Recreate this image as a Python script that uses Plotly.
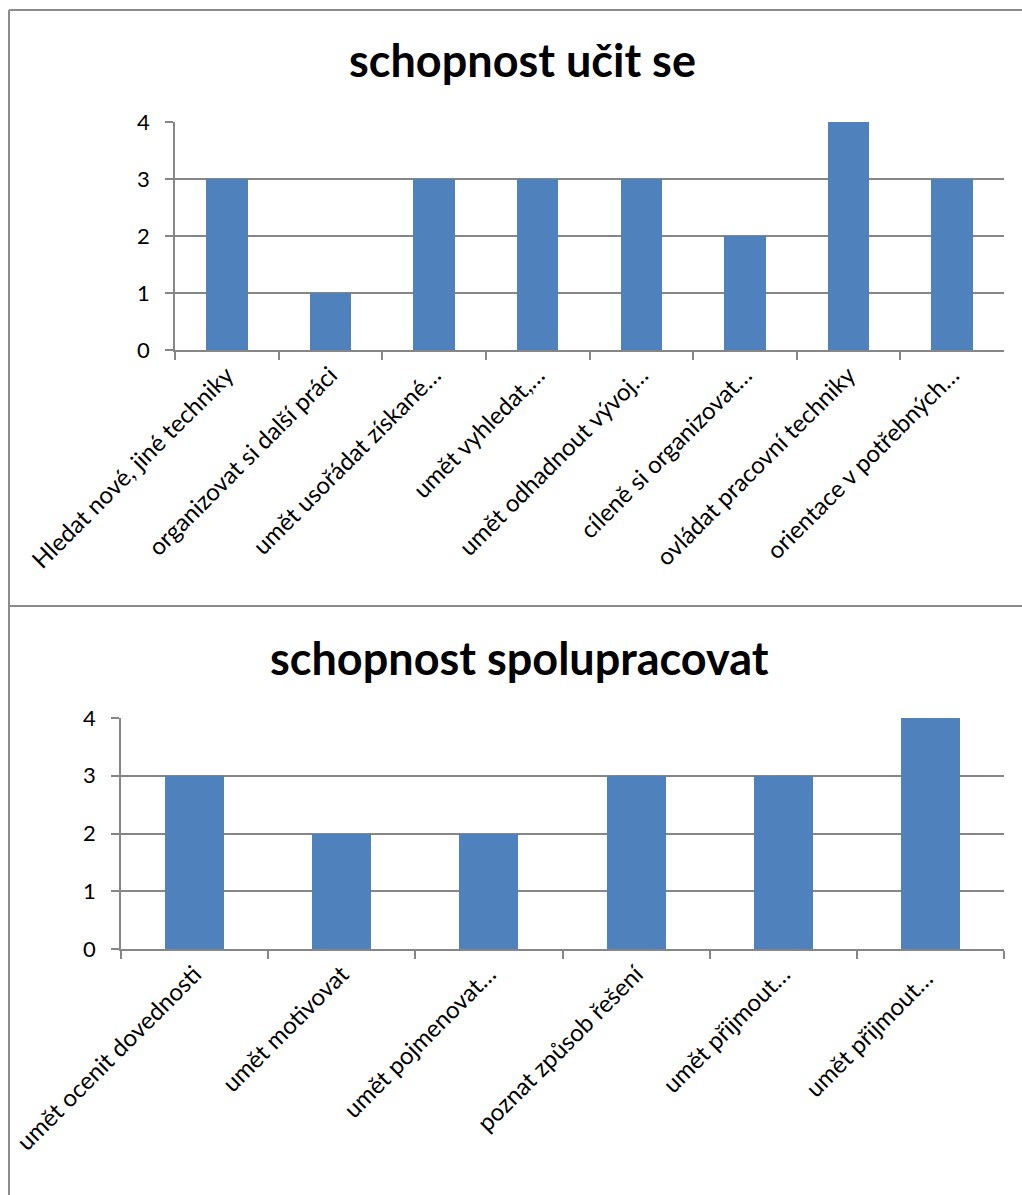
import plotly.graph_objects as go

# Data: two skill groups, count of responses per item
learn_labels = [
    "Hledat nové, jiné techniky",
    "organizovat si další práci",
    "umět usořádat získané…",
    "umět vyhledat,…",
    "umět odhadnout vývoj…",
    "cíleně si organizovat…",
    "ovládat pracovní techniky",
    "orientace v potřebných…",
]
learn_values = [3, 1, 3, 3, 3, 2, 4, 3]

# the last two items share a truncated caption; the trailing space keeps the categories distinct
coop_labels = [
    "umět ocenit dovednosti",
    "umět motivovat",
    "umět pojmenovat…",
    "poznat způsob řešení",
    "umět přijmout…",
    "umět přijmout… ",
]
coop_values = [3, 2, 2, 3, 3, 4]

title_top = "schopnost učit se"
title_bottom = "schopnost spolupracovat"
y_ticks = [0, 1, 2, 3, 4]

W, H = 1022, 1195
BAR = "#4F81BD"
GRID = "#868686"
FONT = "Lato"


def px_x(v):
    return v / W


def px_y(v):
    return 1 - v / H


fig = go.Figure()
fig.add_trace(go.Bar(x=learn_labels, y=learn_values, width=0.4,
                     marker=dict(color=BAR, line=dict(width=0)),
                     xaxis="x", yaxis="y", showlegend=False, hoverinfo="skip"))
fig.add_trace(go.Bar(x=coop_labels, y=coop_values, width=0.4,
                     marker=dict(color=BAR, line=dict(width=0)),
                     xaxis="x2", yaxis="y2", showlegend=False, hoverinfo="skip"))

xcommon = dict(type="category", showgrid=False, zeroline=False, showline=True,
               linecolor=GRID, linewidth=1.5,
               ticks="outside", ticklen=8, tickcolor=GRID, tickwidth=1.5, tickson="boundaries",
               tickangle=-45, tickfont=dict(family=FONT, size=24, color="black"),
               automargin=False, fixedrange=True)
ycommon = dict(range=[0, 4], tickvals=y_ticks, showgrid=True, gridcolor=GRID, gridwidth=1.5,
               zeroline=False, showline=True, linecolor=GRID, linewidth=1.5,
               ticks="outside", ticklen=8, tickcolor=GRID, tickwidth=1.5,
               tickfont=dict(family=FONT, size=22, color="black"), ticklabelstandoff=11,
               automargin=False, fixedrange=True)

fig.update_layout(
    width=W, height=H,
    margin=dict(l=0, r=0, t=0, b=0, autoexpand=False),
    paper_bgcolor="white", plot_bgcolor="white",
    bargap=0,
    xaxis=dict(xcommon, domain=[px_x(175), px_x(1004)], range=[-0.5, len(learn_values) - 0.5],
               categoryorder="array", categoryarray=learn_labels, anchor="y"),
    yaxis=dict(ycommon, domain=[px_y(350), px_y(122)], anchor="x"),
    xaxis2=dict(xcommon, domain=[px_x(121), px_x(1004)], range=[-0.5, len(coop_values) - 0.5],
                categoryorder="array", categoryarray=coop_labels, anchor="y2"),
    yaxis2=dict(ycommon, domain=[px_y(949), px_y(718)], anchor="x2"),
)

fig.add_annotation(text=f"<b>{title_top}</b>", x=px_x(522), y=px_y(60), xref="paper", yref="paper",
                   xanchor="center", yanchor="middle", showarrow=False,
                   font=dict(family=FONT, size=45, color="black"))
fig.add_annotation(text=f"<b>{title_bottom}</b>", x=px_x(519), y=px_y(658), xref="paper", yref="paper",
                   xanchor="center", yanchor="middle", showarrow=False,
                   font=dict(family=FONT, size=45, color="black"))

# Chart frame lines
for x0, y0, x1, y1 in [(9, 10, W, 10), (9, 10, 9, H), (9, 606, W, 606)]:
    fig.add_shape(type="line", xref="paper", yref="paper",
                  x0=px_x(x0), y0=px_y(y0), x1=px_x(x1), y1=px_y(y1),
                  line=dict(color="#8C8C8C", width=2))

fig.write_html("out.html")
